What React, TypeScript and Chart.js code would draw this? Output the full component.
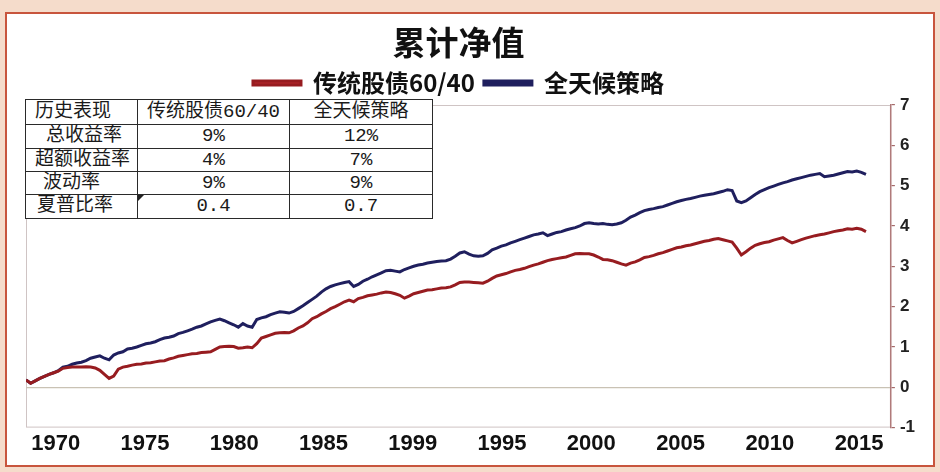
import React, { useEffect, useRef } from "react";
import { Chart, registerables } from "chart.js";

Chart.register(...registerables);

const TITLE = "累计净值";
const SERIES_NAMES = ["传统股债60/40", "全天候策略"];
const START_YEAR = 1970;
const STEP_YEARS = 0.25; // quarterly readings

// 传统股债60/40 — quarterly cumulative net value, 1970Q1 .. 2015Q3
const RED_VALUES = [
  0.18, 0.10, 0.16, 0.22, // 1970
  0.27, 0.32, 0.36, 0.40, // 1971
  0.47, 0.49, 0.50, 0.50, // 1972
  0.50, 0.51, 0.50, 0.48, // 1973
  0.42, 0.32, 0.22, 0.28, // 1974
  0.45, 0.50, 0.52, 0.55, // 1975
  0.57, 0.58, 0.60, 0.61, // 1976
  0.63, 0.65, 0.66, 0.70, // 1977
  0.73, 0.77, 0.79, 0.81, // 1978
  0.83, 0.84, 0.86, 0.87, // 1979
  0.88, 0.94, 1.00, 1.01, // 1980
  1.02, 1.01, 0.97, 0.98, // 1981
  1.00, 0.98, 1.08, 1.22, // 1982
  1.26, 1.30, 1.34, 1.35, // 1983
  1.36, 1.35, 1.40, 1.47, // 1984
  1.52, 1.60, 1.70, 1.75, // 1985
  1.82, 1.88, 1.95, 2.00, // 1986
  2.06, 2.12, 2.16, 2.12, // 1987
  2.20, 2.23, 2.27, 2.29, // 1988
  2.31, 2.34, 2.36, 2.35, // 1989
  2.32, 2.28, 2.21, 2.26, // 1990
  2.32, 2.35, 2.38, 2.41, // 1991
  2.42, 2.44, 2.46, 2.47, // 1992
  2.49, 2.54, 2.60, 2.61, // 1993
  2.61, 2.60, 2.59, 2.58, // 1994
  2.63, 2.70, 2.76, 2.79, // 1995
  2.82, 2.86, 2.90, 2.92, // 1996
  2.95, 2.99, 3.03, 3.06, // 1997
  3.10, 3.14, 3.17, 3.19, // 1998
  3.21, 3.23, 3.27, 3.31, // 1999
  3.32, 3.31, 3.31, 3.28, // 2000
  3.23, 3.17, 3.16, 3.14, // 2001
  3.10, 3.06, 3.03, 3.08, // 2002
  3.11, 3.16, 3.22, 3.24, // 2003
  3.27, 3.31, 3.34, 3.38, // 2004
  3.42, 3.46, 3.48, 3.51, // 2005
  3.53, 3.56, 3.59, 3.62, // 2006
  3.64, 3.67, 3.69, 3.66, // 2007
  3.63, 3.60, 3.45, 3.28, // 2008
  3.36, 3.45, 3.52, 3.56, // 2009
  3.59, 3.61, 3.65, 3.68, // 2010
  3.71, 3.64, 3.58, 3.62, // 2011
  3.66, 3.70, 3.73, 3.76, // 2012
  3.78, 3.80, 3.83, 3.86, // 2013
  3.88, 3.90, 3.93, 3.92, // 2014
  3.94, 3.92, 3.86,       // 2015
];

// 全天候策略 — quarterly cumulative net value, 1970Q1 .. 2015Q3
const BLUE_VALUES = [
  0.18, 0.10, 0.16, 0.22, // 1970
  0.27, 0.32, 0.36, 0.41, // 1971
  0.50, 0.52, 0.57, 0.60, // 1972
  0.62, 0.66, 0.72, 0.75, // 1973
  0.78, 0.72, 0.68, 0.80, // 1974
  0.85, 0.88, 0.95, 0.97, // 1975
  1.00, 1.04, 1.08, 1.10, // 1976
  1.13, 1.18, 1.22, 1.24, // 1977
  1.27, 1.33, 1.36, 1.40, // 1978
  1.44, 1.49, 1.52, 1.57, // 1979
  1.62, 1.66, 1.69, 1.65, // 1980
  1.60, 1.55, 1.49, 1.58, // 1981
  1.52, 1.49, 1.68, 1.72, // 1982
  1.75, 1.80, 1.84, 1.87, // 1983
  1.86, 1.84, 1.88, 1.95, // 1984
  2.02, 2.10, 2.18, 2.26, // 1985
  2.36, 2.44, 2.50, 2.54, // 1986
  2.57, 2.60, 2.62, 2.50, // 1987
  2.55, 2.63, 2.68, 2.74, // 1988
  2.79, 2.84, 2.89, 2.90, // 1989
  2.88, 2.86, 2.92, 2.96, // 1990
  3.00, 3.03, 3.05, 3.08, // 1991
  3.10, 3.12, 3.13, 3.14, // 1992
  3.18, 3.25, 3.33, 3.36, // 1993
  3.30, 3.26, 3.25, 3.26, // 1994
  3.32, 3.41, 3.45, 3.50, // 1995
  3.53, 3.58, 3.62, 3.66, // 1996
  3.70, 3.74, 3.78, 3.80, // 1997
  3.83, 3.76, 3.80, 3.84, // 1998
  3.86, 3.90, 3.93, 3.96, // 1999
  4.00, 4.06, 4.08, 4.06, // 2000
  4.05, 4.06, 4.04, 4.03, // 2001
  4.05, 4.08, 4.14, 4.22, // 2002
  4.27, 4.33, 4.38, 4.41, // 2003
  4.43, 4.46, 4.48, 4.52, // 2004
  4.56, 4.60, 4.63, 4.66, // 2005
  4.68, 4.71, 4.74, 4.76, // 2006
  4.78, 4.80, 4.83, 4.86, // 2007
  4.90, 4.88, 4.62, 4.58, // 2008
  4.62, 4.70, 4.78, 4.85, // 2009
  4.90, 4.95, 4.99, 5.03, // 2010
  5.07, 5.10, 5.14, 5.17, // 2011
  5.20, 5.23, 5.26, 5.28, // 2012
  5.30, 5.22, 5.24, 5.26, // 2013
  5.29, 5.32, 5.35, 5.34, // 2014
  5.36, 5.33, 5.28,       // 2015
];

const X_TICK_YEARS = [1970, 1975, 1980, 1985, 1990, 1995, 2000, 2005, 2010, 2015];
const X_TICK_LABELS = ["1970", "1975", "1980", "1985", "1999", "1995", "2000", "2005", "2010", "2015"];
const Y_MIN = -1;
const Y_MAX = 7;
const Y_STEP = 1;

const TABLE_HEAD = ["历史表现", "传统股债60/40", "全天候策略"];
const TABLE_ROW_NAMES = ["总收益率", "超额收益率", "波动率", "夏普比率"];
const TABLE_60_40 = ["9%", "4%", "9%", "0.4"];
const TABLE_ALL_WEATHER = ["12%", "7%", "9%", "0.7"];

const RED = "#971c20";
const RED_LEGEND = "#b3262a";
const BLUE = "#1f1f5e";

const CJK = '"Noto Sans CJK SC", "Noto Sans", sans-serif';
const LATIN = '"Liberation Sans", Arial, sans-serif';
const TABLE_FONT = '"Liberation Mono", "Noto Sans CJK SC", monospace';

export default function App() {
  const canvasRef = useRef<HTMLCanvasElement | null>(null);

  useEffect(() => {
    const toPoints = (arr: number[]) =>
      arr.map((v, i) => ({ x: START_YEAR + i * STEP_YEARS, y: v }));

    const boxPlugin = {
      id: "plotBox",
      beforeDraw(chart: any) {
        const { ctx, chartArea: a } = chart;
        ctx.save();
        ctx.strokeStyle = "#cfc4c4";
        ctx.lineWidth = 1;
        ctx.strokeRect(a.left + 0.5, a.top + 0.5, a.width - 1, a.height - 1);
        ctx.restore();
      },
    };

    const chart = new Chart(canvasRef.current as HTMLCanvasElement, {
      type: "line",
      data: {
        datasets: [
          {
            label: SERIES_NAMES[0],
            data: toPoints(RED_VALUES),
            borderColor: RED,
            backgroundColor: RED_LEGEND,
            borderWidth: 3,
            pointRadius: 0,
            tension: 0,
            xAxisID: "x",
            yAxisID: "y",
          },
          {
            label: SERIES_NAMES[1],
            data: toPoints(BLUE_VALUES),
            borderColor: BLUE,
            backgroundColor: BLUE,
            borderWidth: 3,
            pointRadius: 0,
            tension: 0,
            xAxisID: "x",
            yAxisID: "y",
          },
        ],
      },
      options: {
        animation: false,
        responsive: false,
        layout: { padding: { top: 0, left: 26, right: 20, bottom: 12 } },
        plugins: {
          title: {
            display: true,
            text: TITLE,
            fullSize: false,
            color: "#111",
            font: { family: CJK, size: 33, weight: "bold", lineHeight: 1 },
            padding: { top: 26, bottom: 3 },
          },
          legend: {
            display: true,
            position: "top",
            fullSize: false,
            labels: {
              boxWidth: 48,
              boxHeight: 4,
              padding: 9,
              color: "#111",
              font: { family: CJK, size: 24, weight: "bold" },
            },
          },
          tooltip: { enabled: false },
        },
        scales: {
          x: {
            type: "linear",
            display: false,
            min: 1970,
            max: 2016.85,
          },
          xl: {
            type: "linear",
            position: "bottom",
            min: 1968.33,
            max: 2016.78,
            afterBuildTicks: (scale: any) => {
              scale.ticks = X_TICK_YEARS.map((v) => ({ value: v }));
            },
            grid: { display: false, drawTicks: false },
            border: { display: false },
            ticks: {
              autoSkip: false,
              maxRotation: 0,
              padding: 3,
              color: "#111",
              font: { family: LATIN, size: 22, weight: "bold" },
              callback: (v: any) => {
                const i = X_TICK_YEARS.indexOf(Number(v));
                return i >= 0 ? X_TICK_LABELS[i] : "";
              },
            },
          },
          y: {
            position: "right",
            min: Y_MIN,
            max: Y_MAX,
            ticks: {
              stepSize: Y_STEP,
              padding: 5,
              color: "#222",
              font: { family: LATIN, size: 17, weight: "bold" },
            },
            grid: {
              color: (c: any) =>
                c.tick && c.tick.value === 0 ? "#c9c2b4" : "rgba(0,0,0,0)",
              tickColor: "#a46a6a",
              tickLength: 4,
              lineWidth: 1.2,
            },
            border: { color: "#b07a7a", width: 1.5 },
          },
        },
      },
      plugins: [boxPlugin],
    } as any);

    return () => chart.destroy();
  }, []);

  const cell: React.CSSProperties = {
    border: "1px solid #2a2a2a",
    padding: 0,
    textAlign: "center",
    whiteSpace: "nowrap",
    position: "relative",
  };
  const nameIndent = [20, 9, 17, 11];
  const rowHeights = [24, 23, 23, 24];

  return (
    <div
      style={{
        position: "fixed",
        left: 0,
        top: 0,
        width: 940,
        height: 472,
        background: "#f5dccb",
        overflow: "hidden",
      }}
    >
      <div
        style={{
          position: "absolute",
          left: 5,
          top: 12,
          width: 926,
          height: 451,
          border: "2px solid #c8553d",
          background: "#ffffff",
        }}
      />
      <canvas
        ref={canvasRef}
        width={940}
        height={472}
        style={{ position: "absolute", left: 0, top: 0, width: 940, height: 472 }}
      />
      <table
        style={{
          position: "absolute",
          left: 25,
          top: 99,
          width: 407,
          borderCollapse: "collapse",
          tableLayout: "fixed",
          background: "#ffffff",
          fontFamily: TABLE_FONT,
          fontSize: 19,
          color: "#1a1a1a",
          lineHeight: 1,
        }}
      >
        <colgroup>
          <col style={{ width: 112 }} />
          <col style={{ width: 152 }} />
          <col style={{ width: 143 }} />
        </colgroup>
        <tbody>
          <tr style={{ height: 25 }}>
            <td style={{ ...cell, textAlign: "left", paddingLeft: 9 }}>{TABLE_HEAD[0]}</td>
            <td style={cell}>{TABLE_HEAD[1]}</td>
            <td style={cell}>{TABLE_HEAD[2]}</td>
          </tr>
          {TABLE_ROW_NAMES.map((name, i) => (
            <tr key={name} style={{ height: rowHeights[i] }}>
              <td style={{ ...cell, textAlign: "left", paddingLeft: nameIndent[i] }}>{name}</td>
              <td style={cell}>
                {i === 3 ? (
                  <div
                    style={{
                      position: "absolute",
                      left: 0,
                      top: 0,
                      width: 0,
                      height: 0,
                      borderTop: "6px solid #222",
                      borderRight: "6px solid transparent",
                    }}
                  />
                ) : null}
                {TABLE_60_40[i]}
              </td>
              <td style={cell}>{TABLE_ALL_WEATHER[i]}</td>
            </tr>
          ))}
        </tbody>
      </table>
    </div>
  );
}
